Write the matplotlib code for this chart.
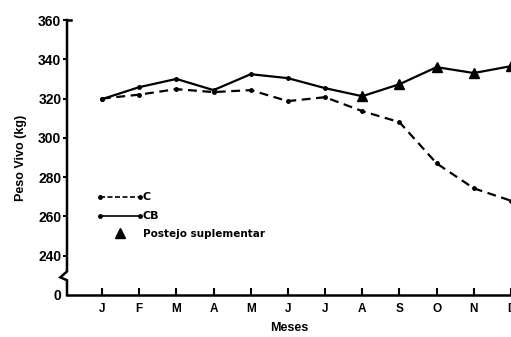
import numpy as np
import matplotlib.pyplot as plt

plt.rcParams['font.family'] = ['Liberation Sans', 'DejaVu Sans']
plt.rcParams['font.weight'] = 'bold'

meses = ['J', 'F', 'M', 'A', 'M', 'J', 'J', 'A', 'S', 'O', 'N', 'D']
peso_c = [320, 322, 324.8, 323.3, 324.3, 318.7, 320.7, 313.6, 308, 287, 274.3, 268]
peso_cb = [319.7, 325.8, 330, 324.3, 332.4, 330.4, 325.3, 321.2, 327.3, 336, 333, 336.5]
# meses com pastejo suplementar (indices)
supl = [7, 8, 9, 10, 11]

y_ticks = [220, 240, 260, 280, 300, 320, 340, 360]
y_labels = ['0', '240', '260', '280', '300', '320', '340', '360']

fig = plt.figure(figsize=(5.11, 3.37), dpi=100)
ax = fig.add_axes([67/511, 42/337, 444/511, 275/337])

x = np.arange(len(meses))
ax.plot(x, peso_c, color='black', lw=1.6, ls=(0, (4, 2.5)), marker='o', ms=2.5, clip_on=True)
ax.plot(x, peso_cb, color='black', lw=1.6, marker='o', ms=2.5, clip_on=True)
ax.plot(x[supl], np.array(peso_cb)[supl], ls='none', marker='^', ms=7, color='black', clip_on=True)

ax.set_xlim(-0.94, 11.0)
ax.set_ylim(220, 360)

for s in ['top', 'right', 'left']:
    ax.spines[s].set_visible(False)
ax.spines['bottom'].set_linewidth(1.8)

# eixo y com quebra
tr = ax.get_yaxis_transform()
ax.plot([0, 0.009], [360, 360], color='black', lw=1.8, transform=tr, clip_on=False)
ax.plot([0, 0, -0.015, 0, 0, 0], [360, 232, 229, 227.5, 224, 220], color='black', lw=1.8,
        transform=tr, clip_on=False, solid_joinstyle='miter')

ax.set_yticks(y_ticks)
ax.set_yticklabels(y_labels, fontsize=10, fontweight='bold')
ax.set_xticks(x)
ax.set_xticklabels(meses, fontsize=8.5, fontweight='bold')
ax.tick_params(axis='y', direction='out', length=3, width=1.5, pad=1)
ax.tick_params(axis='x', direction='in', length=5, width=1.5, pad=6)
ax.get_yticklines()[0].set_visible(False)
ax.get_yticklines()[1].set_visible(False)

ax.set_ylabel('Peso Vivo (kg)', fontsize=9, fontweight='bold', labelpad=8)
ax.set_xlabel('Meses', fontsize=9, fontweight='bold', labelpad=5)

# legenda
ta = ax.transAxes
ax.plot([0.074, 0.164], [0.356, 0.356], color='black', lw=1.2, ls=(0, (3, 1.5)),
        marker='o', ms=2.5, transform=ta)
ax.plot([0.074, 0.164], [0.287, 0.287], color='black', lw=1.2,
        marker='o', ms=2.5, transform=ta)
ax.plot([0.119], [0.225], ls='none', marker='^', ms=7, color='black', transform=ta)
leg_font = ['DejaVu Sans']
ax.text(0.170, 0.356, 'C', fontsize=8, fontweight='bold', va='center', transform=ta, family=leg_font)
ax.text(0.170, 0.287, 'CB', fontsize=8, fontweight='bold', va='center', transform=ta, family=leg_font)
ax.text(0.171, 0.222, 'Postejo suplementar', fontsize=7.5, fontweight='bold', va='center',
        transform=ta, family=leg_font)

fig.savefig('out.png', dpi=100)
